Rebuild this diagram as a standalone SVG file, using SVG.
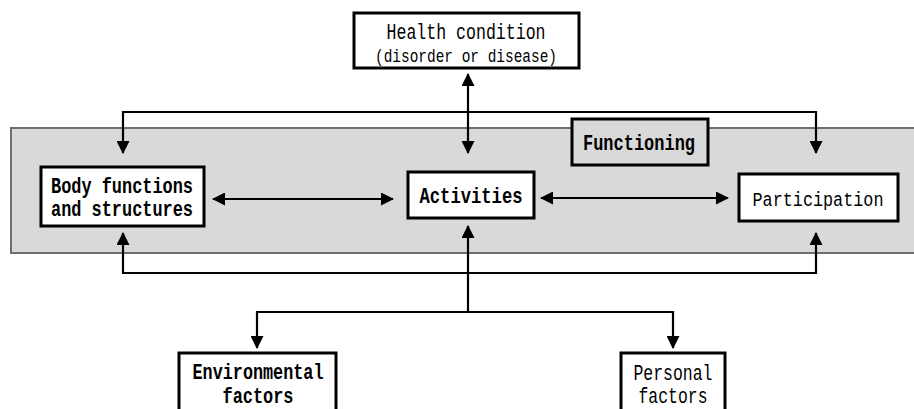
<svg xmlns="http://www.w3.org/2000/svg" width="914" height="409" viewBox="0 0 914 409">
<defs>
<marker id="ah" markerUnits="userSpaceOnUse" markerWidth="13" markerHeight="13" refX="12" refY="6.5" orient="auto-start-reverse" viewBox="0 0 13 13">
<path d="M0,0 L13,6.5 L0,13 z" fill="#000"/>
</marker>
<style>
.box{fill:#fff;stroke:#000;stroke-width:3}
.t{font-family:"Liberation Mono","DejaVu Sans Mono",monospace;font-size:22px;fill:#000;text-anchor:middle}
.b{font-weight:bold}
.c{fill:none;stroke:#000;stroke-width:2.2;marker-start:url(#ah);marker-end:url(#ah)}
</style>
</defs>
<rect x="0" y="0" width="914" height="409" fill="#fff"/>
<rect id="band" x="11" y="128" width="910" height="125" fill="#d9d9d9" stroke="#6e6e6e" stroke-width="2"/>
<g id="connectors">
<line class="c" x1="468" y1="74" x2="468" y2="153"/>
<path class="c" d="M123,153 V112 H816 V153"/>
<line class="c" x1="213" y1="199" x2="393" y2="199"/>
<line class="c" x1="541" y1="198" x2="728" y2="198"/>
<path class="c" d="M123,233 V273 H816 V233"/>
<path d="M468,312 V226" fill="none" stroke="#000" stroke-width="2.2" marker-end="url(#ah)"/>
<path class="c" d="M257,348 V312 H673 V348"/>
</g>
<g id="health">
<rect class="box" x="354" y="13" width="225" height="55"/>
<text class="t" x="466" y="39" textLength="159" lengthAdjust="spacingAndGlyphs">Health condition</text>
<text class="t" x="466" y="62" style="font-size:18px" textLength="182" lengthAdjust="spacingAndGlyphs">(disorder or disease)</text>
</g>
<g id="functioning">
<rect x="572" y="119" width="136" height="46" fill="#d9d9d9" stroke="#000" stroke-width="3"/>
<text class="t b" x="639" y="150" textLength="112" lengthAdjust="spacingAndGlyphs">Functioning</text>
</g>
<g id="body">
<rect class="box" x="41" y="167" width="163" height="59"/>
<text class="t b" x="122" y="193" textLength="142" lengthAdjust="spacingAndGlyphs">Body functions</text>
<text class="t b" x="122" y="216" textLength="142" lengthAdjust="spacingAndGlyphs">and structures</text>
</g>
<g id="activities">
<rect class="box" x="408" y="172" width="126" height="46"/>
<text class="t b" x="471" y="203" textLength="103" lengthAdjust="spacingAndGlyphs">Activities</text>
</g>
<g id="participation">
<rect class="box" x="739" y="174" width="159" height="47"/>
<text class="t" x="818" y="206" textLength="131" lengthAdjust="spacingAndGlyphs" style="font-size:20px">Participation</text>
</g>
<g id="environmental">
<rect class="box" x="179" y="353" width="157" height="70"/>
<text class="t b" x="258" y="379" textLength="131" lengthAdjust="spacingAndGlyphs">Environmental</text>
<text class="t b" x="258" y="403" textLength="71" lengthAdjust="spacingAndGlyphs">factors</text>
</g>
<g id="personal">
<rect class="box" x="621" y="353" width="104" height="70"/>
<text class="t" x="673" y="380" textLength="79" lengthAdjust="spacingAndGlyphs">Personal</text>
<text class="t" x="673" y="403" textLength="69" lengthAdjust="spacingAndGlyphs">factors</text>
</g>
</svg>
